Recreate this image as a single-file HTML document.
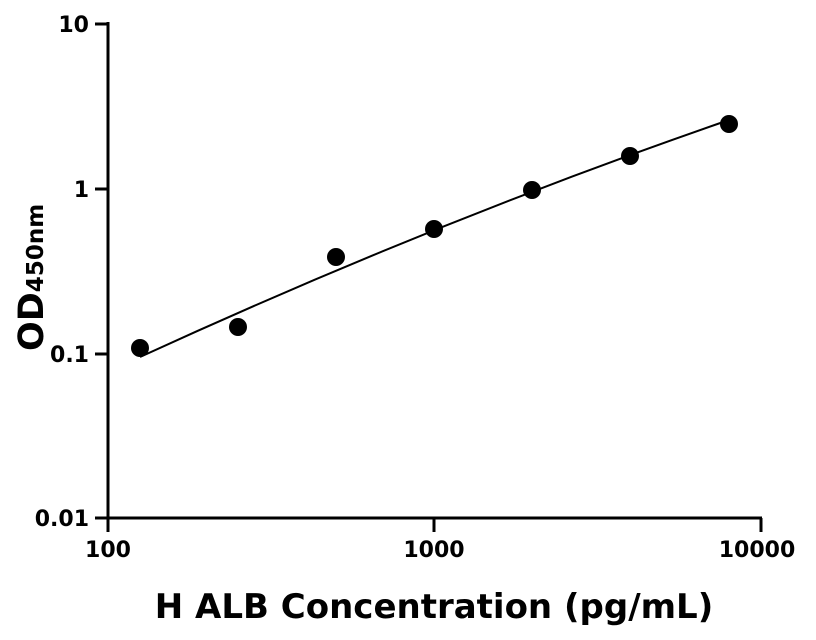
<!DOCTYPE html>
<html><head><meta charset="utf-8"><style>body{margin:0;background:#fff}</style></head><body>
<svg width="816" height="640" xmlns="http://www.w3.org/2000/svg" style="display:block">
<rect width="816" height="640" fill="#fff"/>
<g stroke="#000" stroke-width="3" fill="none">
<line x1="108" y1="22" x2="108" y2="532"/>
<line x1="106.5" y1="518" x2="762" y2="518"/>
<line x1="95" y1="24" x2="108" y2="24"/>
<line x1="95" y1="189" x2="108" y2="189"/>
<line x1="95" y1="354" x2="108" y2="354"/>
<line x1="95" y1="518" x2="108" y2="518"/>
<line x1="434" y1="518" x2="434" y2="532"/>
<line x1="761" y1="518" x2="761" y2="532"/>
</g>
<path d="M140,357 Q434,222 729,120" stroke="#000" stroke-width="2" fill="none"/>
<g fill="#000">
<circle cx="140" cy="348" r="9"/><circle cx="238" cy="327" r="9"/><circle cx="336" cy="257" r="9"/>
<circle cx="434" cy="229" r="9"/><circle cx="532" cy="190" r="9"/><circle cx="630" cy="156" r="9"/><circle cx="729" cy="124" r="9"/>
</g>
<g font-family="DejaVu Sans, Liberation Sans, sans-serif" font-weight="bold" font-size="22" fill="#000">
<text x="89" y="32" text-anchor="end">10</text>
<text x="89" y="197" text-anchor="end">1</text>
<text x="89" y="362" text-anchor="end">0.1</text>
<text x="89" y="526" text-anchor="end">0.01</text>
<text x="108" y="557" text-anchor="middle">100</text>
<text x="434" y="557" text-anchor="middle">1000</text>
<text x="757" y="557" text-anchor="middle">10000</text>
<text x="434" y="618" text-anchor="middle" font-size="34">H ALB Concentration (pg/mL)</text>
<text transform="translate(43,351) rotate(-90)" font-size="35">OD<tspan font-size="23">450nm</tspan></text>
</g>
</svg>
</body></html>
